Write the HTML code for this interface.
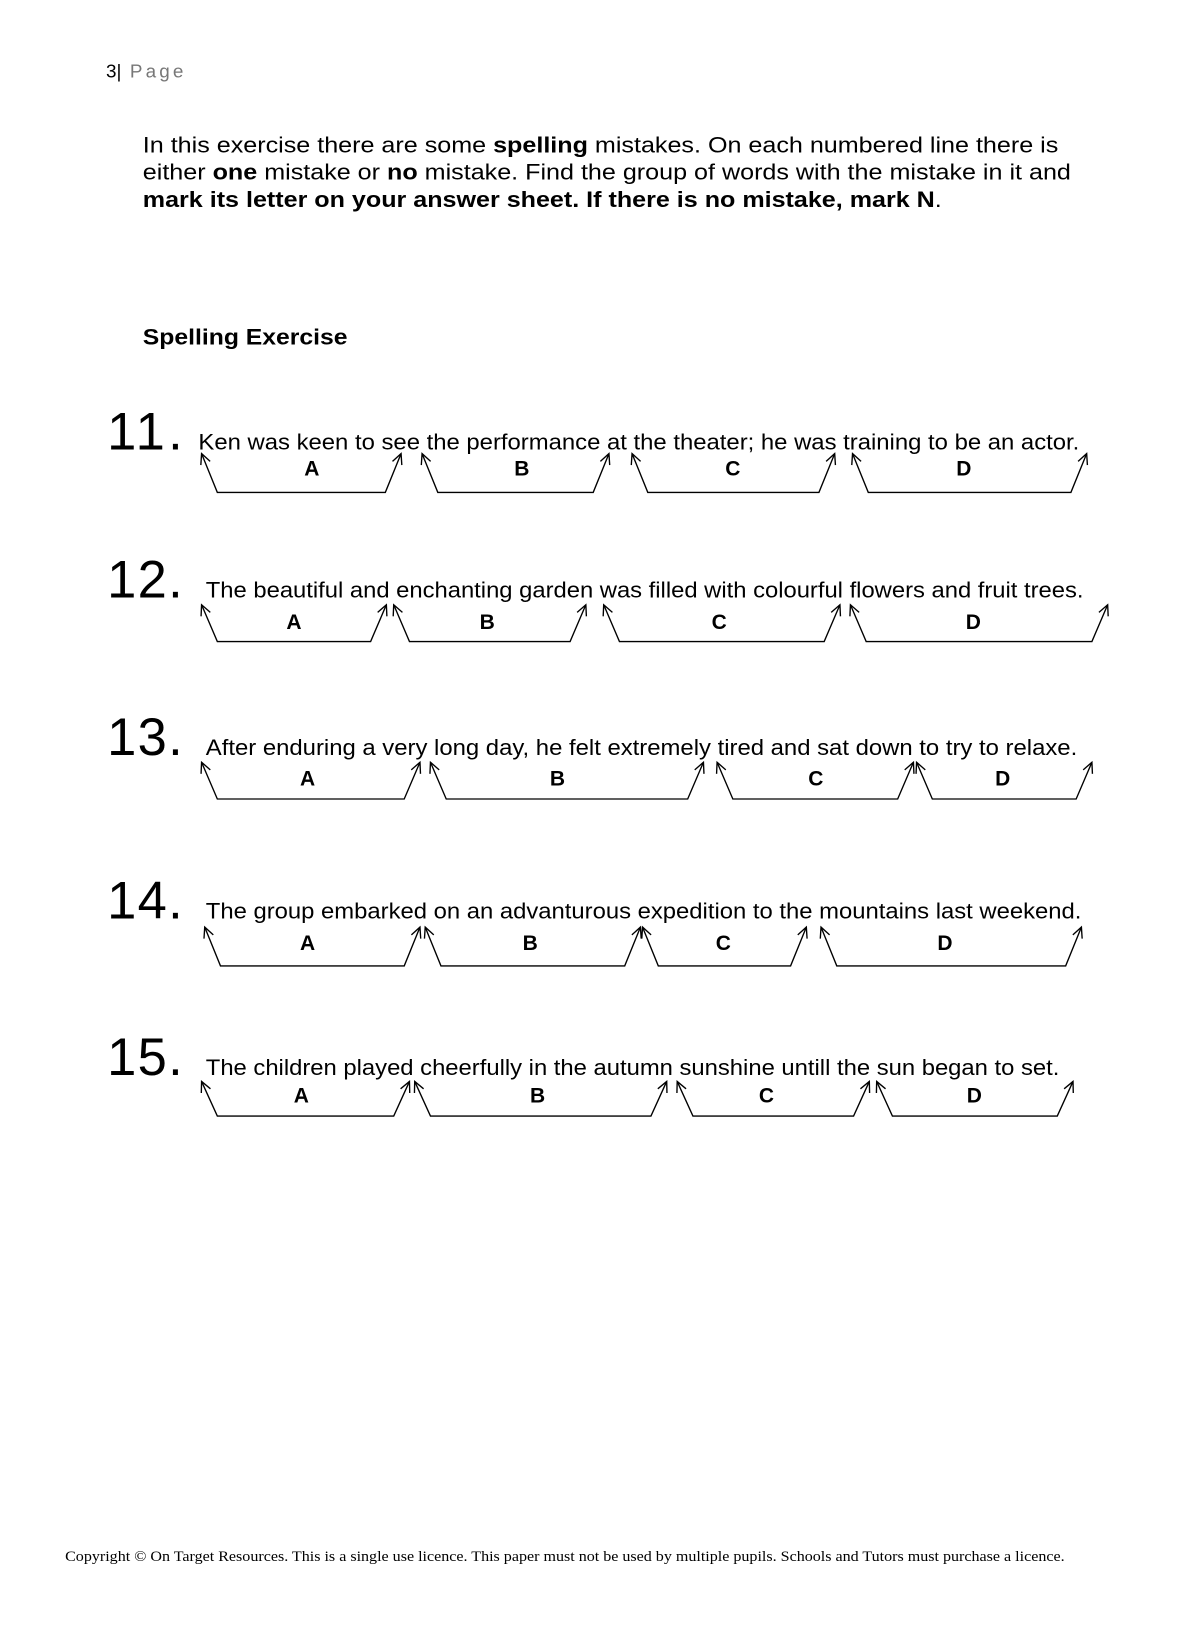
<!DOCTYPE html>
<html><head><meta charset="utf-8"><style>
html,body{margin:0;padding:0;background:#fff;width:1178px;height:1640px;overflow:hidden}
svg{display:block}
text{font-family:"Liberation Sans",Arial,sans-serif;fill:#000}
</style></head><body>
<svg id="s" width="1178" height="1640" viewBox="0 0 1122 1562" xmlns="http://www.w3.org/2000/svg">
<text x="101" y="74" font-size="18">3<tspan fill="#000">|</tspan><tspan fill="#777" letter-spacing="3"> Page</tspan></text>
<text x="136" y="145" font-size="21" textLength="872" lengthAdjust="spacingAndGlyphs">In this exercise there are some <tspan font-weight="bold">spelling</tspan> mistakes.  On each numbered line there is</text>
<text x="136" y="171" font-size="21" textLength="884" lengthAdjust="spacingAndGlyphs">either <tspan font-weight="bold">one</tspan> mistake or <tspan font-weight="bold">no</tspan> mistake.  Find the group of words with the mistake in it and</text>
<text x="136" y="197" font-size="21" font-weight="bold" textLength="761" lengthAdjust="spacingAndGlyphs">mark its letter on your answer sheet.  If there is no mistake, mark N<tspan font-weight="normal">.</tspan></text>
<text x="136" y="328" font-size="21" font-weight="bold" textLength="195" lengthAdjust="spacingAndGlyphs">Spelling Exercise</text>

<g font-size="50">
<text x="102" y="428" textLength="72" lengthAdjust="spacing">11.</text>
<text x="102" y="569" textLength="72" lengthAdjust="spacing">12.</text>
<text x="102" y="719" textLength="72" lengthAdjust="spacing">13.</text>
<text x="102" y="875" textLength="72" lengthAdjust="spacing">14.</text>
<text x="102" y="1024" textLength="72" lengthAdjust="spacing">15.</text>
</g>
<g font-size="21">
<text x="189" y="428" textLength="839" lengthAdjust="spacingAndGlyphs">Ken was keen to see the performance at the theater; he was training to be an actor.</text>
<text x="196" y="569" textLength="836" lengthAdjust="spacingAndGlyphs">The beautiful and enchanting garden was filled with colourful flowers and fruit trees.</text>
<text x="196" y="719" textLength="830" lengthAdjust="spacingAndGlyphs">After enduring a very long day, he felt extremely tired and sat down to try to relaxe.</text>
<text x="196" y="875" textLength="834" lengthAdjust="spacingAndGlyphs">The group embarked on an advanturous expedition to the mountains last weekend.</text>
<text x="196" y="1024" textLength="813" lengthAdjust="spacingAndGlyphs">The children played cheerfully in the autumn sunshine untill the sun began to set.</text>
</g>
<g font-size="20" font-weight="bold" text-anchor="middle">
<text x="297" y="453">A</text><text x="497" y="453">B</text><text x="698" y="453">C</text><text x="918" y="453">D</text>
<text x="280" y="599">A</text><text x="464" y="599">B</text><text x="685" y="599">C</text><text x="927" y="599">D</text>
<text x="293" y="748">A</text><text x="531" y="748">B</text><text x="777" y="748">C</text><text x="955" y="748">D</text>
<text x="293" y="905">A</text><text x="505" y="905">B</text><text x="689" y="905">C</text><text x="900" y="905">D</text>
<text x="287" y="1050">A</text><text x="512" y="1050">B</text><text x="730" y="1050">C</text><text x="928" y="1050">D</text>
</g>
<g id="br" fill="none" stroke="#000" stroke-width="1.3"></g>
<text x="62" y="1487" font-size="14" style="font-family:'Liberation Serif',serif" textLength="952" lengthAdjust="spacingAndGlyphs">Copyright © On Target Resources.  This is a single use licence. This paper must not be used by multiple pupils.  Schools and Tutors must purchase a licence.</text>
</svg>
<script>
var rows=[
[432,469,[[192,382],[402,580],[602,795],[812,1035]]],
[576,611,[[192,368],[375,558],[575,800],[810,1055]]],
[726,761,[[192,400],[410,670],[683,870],[873,1040]]],
[883,920,[[195,400],[405,610],[612,768],[782,1030]]],
[1030,1063,[[192,390],[395,635],[645,828],[835,1022]]]];
var g=document.getElementById('br'),h='';
function head(x,y,dx,dy){var L=Math.hypot(dx,dy),ux=dx/L,uy=dy/L,l=11,a=0.45,c=Math.cos(a),s=Math.sin(a);
var p1=[x-l*(ux*c-uy*s),y-l*(uy*c+ux*s)],p2=[x-l*(ux*c+uy*s),y-l*(uy*c-ux*s)];
return '<polyline points="'+p1+' '+x+','+y+' '+p2+'"/>';}
rows.forEach(function(r){var t=r[0],b=r[1];r[2].forEach(function(s){var a=s[0],e=s[1];
h+='<polyline points="'+a+','+t+' '+(a+15)+','+b+' '+(e-15)+','+b+' '+e+','+t+'"/>';
h+=head(a,t,-15,t-b);h+=head(e,t,15,t-b);});});
g.innerHTML=h;
</script>
</body></html>
